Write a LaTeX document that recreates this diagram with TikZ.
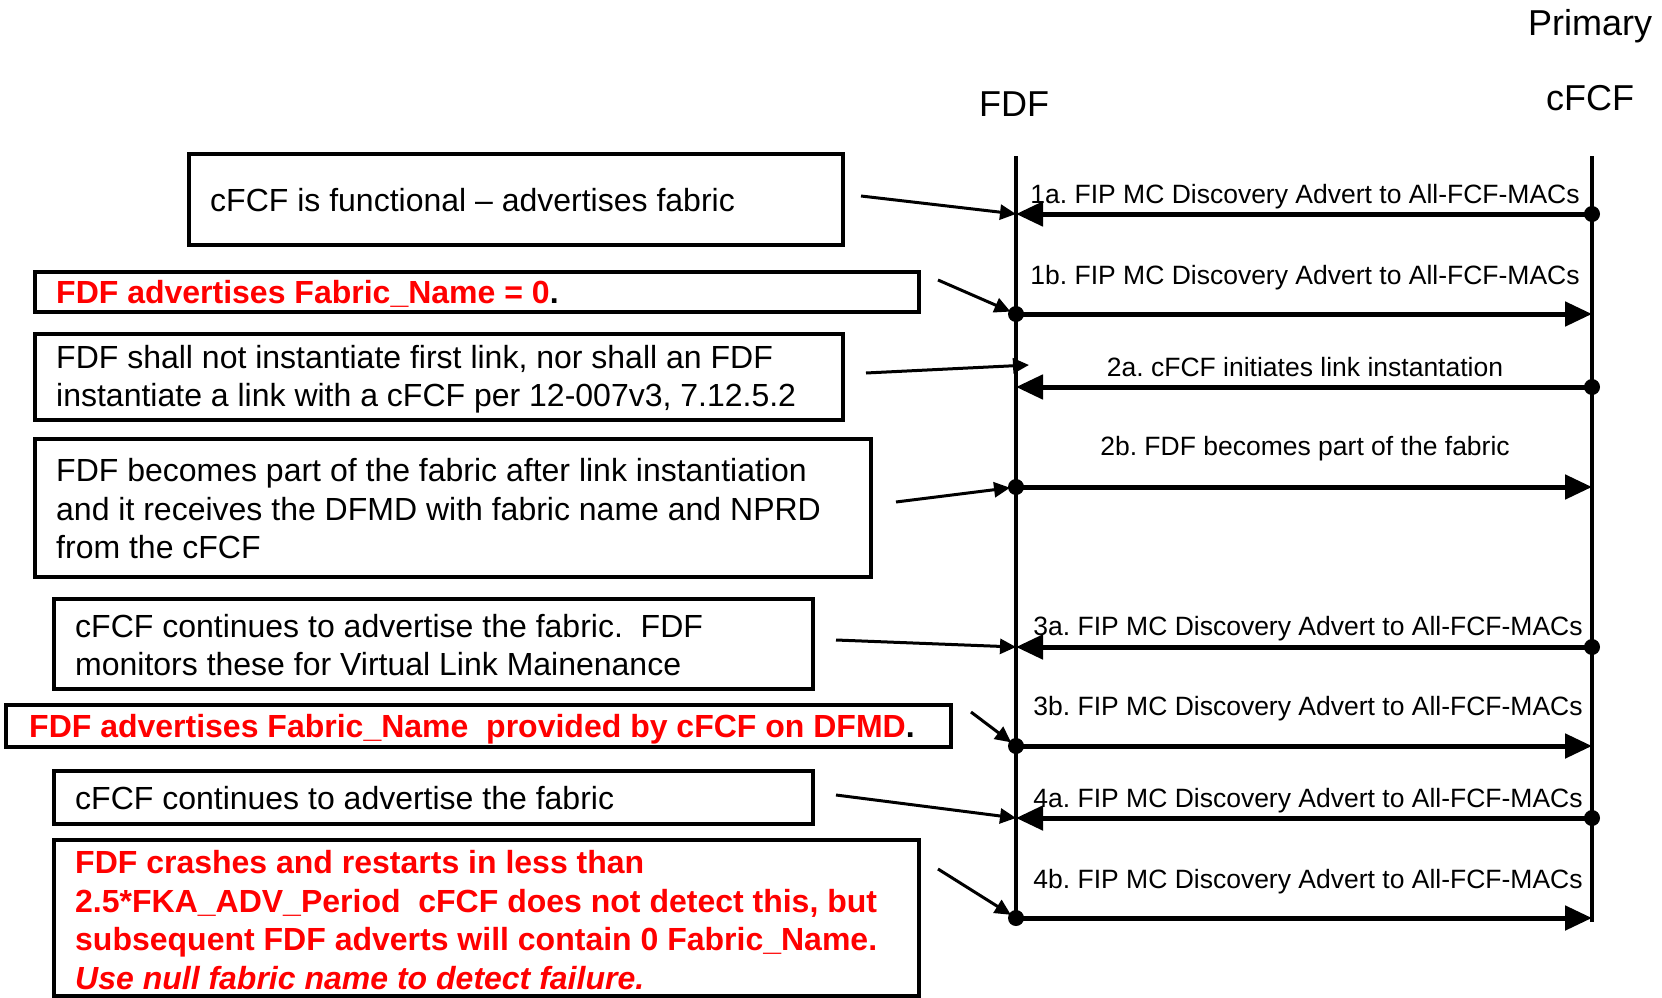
\documentclass[tikz,border=0pt]{standalone}
\usepackage{fontspec}
\setmainfont{Liberation Sans}
\usetikzlibrary{arrows.meta}
\definecolor{alertred}{RGB}{255,0,0}
\frenchspacing
\begin{document}
\begin{tikzpicture}[x=1pt,y=-1pt,
  frame/.style={draw, line width=3.5pt, anchor=north west, inner sep=0pt, outer sep=0pt},
  boxtext/.style={anchor=west, inner sep=0pt, align=left, font=\fontsize{32}{38.5}\selectfont},
  redtext/.style={boxtext, font=\bfseries\fontsize{32}{38.5}\selectfont, text=alertred},
  lifeline/.style={line width=4pt},
  msg/.style={line width=5pt, -{Triangle[length=27pt,width=24pt]}},
  ptr/.style={line width=3pt, -{Triangle[length=16pt,width=15pt]}},
  lbl/.style={anchor=base, inner sep=0pt, font=\fontsize{26.5}{30}\selectfont},
  head/.style={anchor=base, inner sep=0pt, font=\fontsize{36}{40}\selectfont}]
\useasboundingbox (0,0) rectangle (1662,998);

% headers
\node[head] (hprim) at (1590,36) {Primary};
\node[head] (hcfcf) at (1590,110) {cFCF};
\node[head] (hfdf) at (1014,116) {FDF};

% lifelines
\coordinate (fdftop) at (1016,156);
\coordinate (fdfbot) at (1016,920);
\coordinate (cfcftop) at (1592,156);
\coordinate (cfcfbot) at (1592,922);
\draw[lifeline] (fdftop) -- (fdfbot);
\draw[lifeline] (cfcftop) -- (cfcfbot);

% message end points
\foreach \n/\y in {1a/214,1b/314,2a/387,2b/487,3a/647,3b/746,4a/818,4b/918}{
  \coordinate (L\n) at (1016,\y);
  \coordinate (R\n) at (1592,\y);
}

% messages
\draw[msg] (R1a) -- (L1a); \fill (R1a) circle (8pt);
\draw[msg] (L1b) -- (R1b); \fill (L1b) circle (8pt);
\draw[msg] (R2a) -- (L2a); \fill (R2a) circle (8pt);
\draw[msg] (L2b) -- (R2b); \fill (L2b) circle (8pt);
\draw[msg] (R3a) -- (L3a); \fill (R3a) circle (8pt);
\draw[msg] (L3b) -- (R3b); \fill (L3b) circle (8pt);
\draw[msg] (R4a) -- (L4a); \fill (R4a) circle (8pt);
\draw[msg] (L4b) -- (R4b); \fill (L4b) circle (8pt);

% message labels
\node[lbl] (m1a) at (1305,203.5) {1a. FIP MC Discovery Advert to All-FCF-MACs};
\node[lbl] (m1b) at (1305,284.5) {1b. FIP MC Discovery Advert to All-FCF-MACs};
\node[lbl] (m2a) at (1305,376.5) {2a. cFCF initiates link instantation};
\node[lbl] (m2b) at (1305,455.5) {2b. FDF becomes part of the fabric};
\node[lbl] (m3a) at (1308,635.5) {3a. FIP MC Discovery Advert to All-FCF-MACs};
\node[lbl] (m3b) at (1308,715.5) {3b. FIP MC Discovery Advert to All-FCF-MACs};
\node[lbl] (m4a) at (1308,807.5) {4a. FIP MC Discovery Advert to All-FCF-MACs};
\node[lbl] (m4b) at (1308,888.5) {4b. FIP MC Discovery Advert to All-FCF-MACs};

% boxes
\node[frame, minimum width=654pt, minimum height=91pt] (b1) at (189,154) {};
\node[boxtext] (t1) at ([xshift=21pt,yshift=-1pt]b1.west) {cFCF is functional – advertises fabric};

\node[frame, minimum width=884pt, minimum height=40pt] (b2) at (35,272) {};
\node[redtext] (t2) at ([xshift=21pt,yshift=-2pt]b2.west) {FDF advertises Fabric\_Name = 0\textcolor{black}{.}};

\node[frame, minimum width=808pt, minimum height=86pt] (b3) at (35,334) {};
\node[boxtext] (t3) at ([xshift=21pt,yshift=-2pt]b3.west) {FDF shall not instantiate first link, nor shall an FDF\\instantiate a link with a cFCF per 12-007v3, 7.12.5.2};

\node[frame, minimum width=836pt, minimum height=138pt] (b4) at (35,439) {};
\node[boxtext] (t4) at ([xshift=21pt,yshift=-1pt]b4.west) {FDF becomes part of the fabric after link instantiation\\and it receives the DFMD with fabric name and NPRD\\from the cFCF};

\node[frame, minimum width=759pt, minimum height=90pt] (b5) at (54,599) {};
\node[boxtext] (t5) at ([xshift=21pt,yshift=-1pt]b5.west) {cFCF continues to advertise the fabric.\ \ FDF\\monitors these for Virtual Link Mainenance};

\node[frame, minimum width=945pt, minimum height=42pt] (b6) at (6,705) {};
\node[redtext] (t6) at ([xshift=23pt,yshift=-3pt]b6.west) {FDF advertises Fabric\_Name\ \ provided by cFCF on DFMD\textcolor{black}{.}};

\node[frame, minimum width=759pt, minimum height=53pt] (b7) at (54,771) {};
\node[boxtext] (t7) at ([xshift=21pt,yshift=-1pt]b7.west) {cFCF continues to advertise the fabric};

\node[frame, minimum width=865pt, minimum height=156pt] (b8) at (54,840) {};
\node[redtext] (t8) at ([xshift=21pt,yshift=-2pt]b8.west) {FDF crashes and restarts in less than\\2.5*FKA\_ADV\_Period\ \ cFCF does not detect this, but\\subsequent FDF adverts will contain 0 Fabric\_Name.\\\textit{Use null fabric name to detect failure.}};

% pointers
\coordinate (p1s) at (861,196);
\coordinate (p2s) at (938,280);
\coordinate (p3s) at (866,373);
\coordinate (p3e) at (1029,365);
\coordinate (p4s) at (896,502);
\coordinate (p5s) at (836,640);
\coordinate (p6s) at (971,712);
\coordinate (p7s) at (836,795);
\coordinate (p8s) at (938,869);
\draw[ptr] (p1s) -- (L1a);
\draw[ptr, shorten >=6pt] (p2s) -- (L1b);
\draw[ptr] (p3s) -- (p3e);
\draw[ptr, shorten >=6pt] (p4s) -- (L2b);
\draw[ptr] (p5s) -- (L3a);
\draw[ptr, shorten >=6pt] (p6s) -- (L3b);
\draw[ptr] (p7s) -- (L4a);
\draw[ptr, shorten >=6pt] (p8s) -- (L4b);
\end{tikzpicture}
\end{document}
